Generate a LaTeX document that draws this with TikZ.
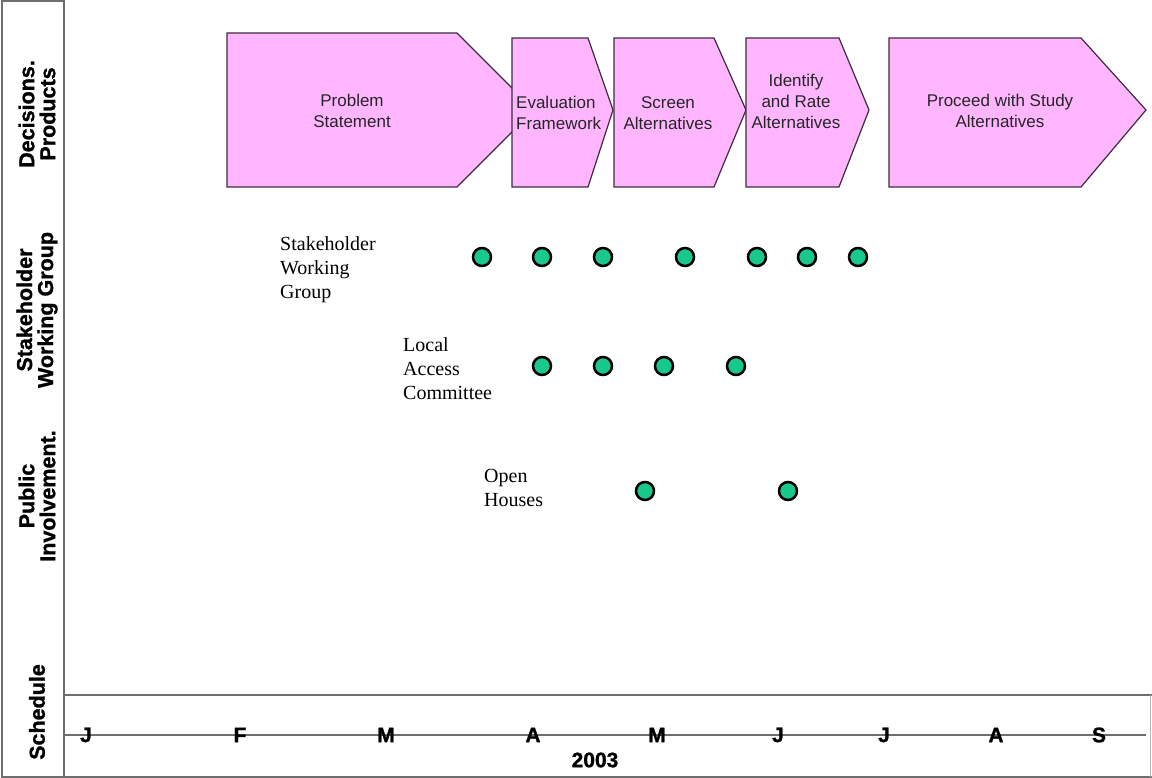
\documentclass[tikz,border=0pt]{standalone}
\usepackage{fontspec}
\setmainfont{Liberation Serif}
\newfontfamily\arialf{Liberation Sans}
\newfontfamily\heavyf[BoldFeatures={FakeBold=1.2}]{Liberation Sans}
\definecolor{boxpink}{RGB}{255,182,255}
\definecolor{boxline}{RGB}{60,45,60}
\definecolor{dotgreen}{RGB}{25,200,140}
\definecolor{frameg}{RGB}{110,110,110}
\begin{document}
\begin{tikzpicture}[x=1pt,y=-1pt,
  stagebox/.style={fill=boxpink,draw=boxline,line width=1.2pt,line join=miter},
  stagetext/.style={font=\arialf\fontsize{17}{21}\selectfont,text=black!85,align=center,inner sep=0pt},
  meet/.style={circle,fill=dotgreen,draw=black,line width=2.5pt,minimum size=18pt,inner sep=0pt},
  grouplabel/.style={font=\fontsize{20}{24}\selectfont,align=left,anchor=north west,inner sep=0pt},
  sidelabel/.style={font=\heavyf\bfseries\fontsize{21.5}{21}\selectfont,align=center,rotate=90,inner sep=0pt},
  month/.style={font=\heavyf\bfseries\fontsize{21}{21}\selectfont,inner sep=0pt},
  frameline/.style={draw=frameg,line width=1.6pt}]
\useasboundingbox (0,0) rectangle (1152,778);
% frame
\draw[frameline] (2,1) rectangle (64,777);
\draw[frameline] (64,777) -- (1152,777);
\draw[frameline] (64,695) -- (1152,695);
\draw[draw=frameg!50,line width=0.8pt] (1150,695) -- (1150,777);
\draw[frameline] (64,735) -- (1146,735);
% side labels
\node[sidelabel] (lDec) at (37,114) {Decisions.\\Products};
\node[sidelabel] (lSWG) at (37,310) {Stakeholder\\Working Group};
\node[sidelabel] (lPub) at (37,496) {Public\\Involvement.};
\node[sidelabel] (lSch) at (37,712) {Schedule};
% stage arrows
\path[stagebox] (227,33) -- (457,33) -- (534,110) -- (457,187) -- (227,187) -- cycle;
\path[stagebox] (512,38) -- (588,38) -- (613,110) -- (588,187) -- (512,187) -- cycle;
\path[stagebox] (614,38) -- (714,38) -- (746,110) -- (714,187) -- (614,187) -- cycle;
\path[stagebox] (746,38) -- (839,38) -- (869,110) -- (839,187) -- (746,187) -- cycle;
\path[stagebox] (889,38) -- (1081,38) -- (1146,110) -- (1081,187) -- (889,187) -- cycle;
\node[stagetext] (tProb) at (352,111) {Problem\\Statement};
\node[stagetext,align=left,anchor=west] (tEval) at (516,113) {Evaluation\\Framework};
\node[stagetext] (tScr) at (668,113) {Screen\\Alternatives};
\node[stagetext] (tIde) at (796,101) {Identify\\and Rate\\Alternatives};
\node[stagetext] (tPro) at (1000,111) {Proceed with Study\\Alternatives};
% group labels
\node[grouplabel] (gSWG) at (280,236) {Stakeholder\\Working\\Group};
\node[grouplabel] (gLAC) at (403,337) {Local\\Access\\Committee};
\node[grouplabel] (gOH) at (484,469) {Open\\Houses};
% meetings
\foreach \x [count=\i] in {482,542,603,685,757,807,858} \node[meet] (s\i) at (\x,257) {};
\foreach \x [count=\i] in {542,603,664,736} \node[meet] (l\i) at (\x,366) {};
\foreach \x [count=\i] in {645,788} \node[meet] (o\i) at (\x,491) {};
% months
\foreach \m/\x [count=\i] in {J/86,F/240,M/386,A/533,M/657,J/778,J/884,A/996,S/1099}
  \node[month] (m\i) at (\x,735) {\m};
\node[month] (yr) at (595,760) {2003};
\end{tikzpicture}
\end{document}
